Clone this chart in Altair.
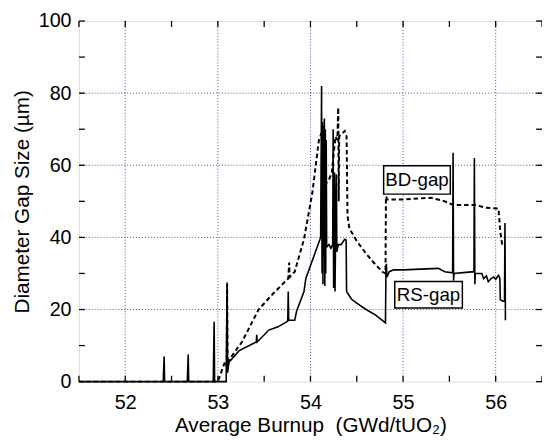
import altair as alt
import pandas as pd

# RS-gap (solid line)
rs_x = [51.5, 52.41, 52.42, 52.425, 52.67, 52.68, 52.685, 52.95, 52.96, 52.965,
        53.09, 53.10, 53.105, 53.12, 53.23, 53.34, 53.415, 53.42, 53.425, 53.55,
        53.65, 53.755, 53.76, 53.765, 53.83, 53.85, 53.93, 53.95, 54.11, 54.12,
        54.125, 54.13, 54.135, 54.14, 54.145, 54.15, 54.155, 54.16, 54.165, 54.17,
        54.175, 54.18, 54.20, 54.22, 54.24, 54.245, 54.25, 54.26, 54.265, 54.27,
        54.28, 54.285, 54.30, 54.33, 54.37, 54.385, 54.39, 54.44, 54.46, 54.50,
        54.60, 54.70, 54.80, 54.81, 54.815, 54.82, 54.825, 54.85, 54.90, 55.00,
        55.38, 55.45, 55.535, 55.54, 55.545, 55.55, 55.765, 55.77, 55.775, 55.78,
        55.85, 55.87, 55.90, 55.92, 55.95, 55.98, 56.00, 56.03, 56.045, 56.05,
        56.08, 56.095, 56.10, 56.105]
rs_y = [0, 0, 7, 0, 0, 7.5, 0, 0, 16.6, 0,
        0, 27.5, 2.5, 5.4, 8.6, 10, 11, 13, 11, 14.3,
        15.2, 16.8, 25, 17, 17, 19.5, 25, 28.6, 40, 82,
        30, 72, 27, 71, 35, 73, 26.5, 70, 30, 67,
        38, 37.5, 38, 37, 38, 70, 26, 58, 25, 37,
        57.5, 36, 38, 38, 39.5, 39.3, 25, 23, 22.5, 21.8,
        20, 18.5, 16.5, 16.3, 31, 32.7, 29, 30.5, 31, 31,
        31.4, 30.5, 30.2, 63.5, 28, 30, 30.5, 62, 27, 30,
        30, 28.6, 29.3, 27.7, 28.6, 29, 28.4, 29.5, 28.6, 22.7,
        22.3, 22.3, 44, 17]

# BD-gap (dashed line)
bd_x = [51.5, 53.0, 53.07, 53.095, 53.10, 53.105, 53.12, 53.26, 53.44, 53.60,
        53.76, 53.77, 53.775, 53.83, 53.93, 54.02, 54.09, 54.12, 54.14, 54.17,
        54.20, 54.23, 54.27, 54.29, 54.30, 54.305, 54.31, 54.33, 54.37, 54.39,
        54.40, 54.42, 54.50, 54.60, 54.70, 54.78, 54.81, 54.815, 54.83, 55.00,
        55.30, 55.45, 55.54, 55.78, 55.90, 56.03, 56.05, 56.07]
bd_y = [0, 0, 5, 4, 27, 5, 6, 11, 20, 24.5,
        28.6, 33, 29, 30.5, 39.5, 52.3, 66.8, 69, 60, 55,
        56, 58, 68, 67, 76, 50, 68, 68.5, 69.5, 68,
        46, 42.5, 39, 35.5, 32.5, 30.4, 30, 51.4, 50.5, 50.5,
        51, 50, 49, 49, 48.2, 48, 41.5, 38]

# Tick / grid values
x_major = [52, 53, 54, 55, 56]
x_minor = [51.5, 52, 52.5, 53, 53.5, 54, 54.5, 55, 55.5, 56, 56.5]
y_major = [0, 20, 40, 60, 80, 100]
y_minor = [0, 10, 20, 30, 40, 50, 60, 70, 80, 90, 100]
grid_y = [20, 40, 60, 80]

# Annotation labels (data coordinates)
lab_text = ["BD-gap", "RS-gap"]
lab_x = [55.15, 55.275]
lab_y = [56.0, 24.1]
box_x1 = [54.79, 54.91]
box_x2 = [55.51, 55.64]
box_y1 = [52.0, 20.4]
box_y2 = [59.9, 27.8]

W, H = 470, 366
FONT = "Liberation Sans"

xs = alt.Scale(domain=[51.5, 56.5], nice=False, zero=False)
ys = alt.Scale(domain=[0, 100], nice=False)

rs_df = pd.DataFrame({"x": rs_x, "y": rs_y, "i": range(len(rs_x))})
bd_df = pd.DataFrame({"x": bd_x, "y": bd_y, "i": range(len(bd_x))})

xgrid = alt.Chart(pd.DataFrame({"v": x_major})).mark_rule(
    color="#4a4ac8", strokeDash=[1, 2], strokeWidth=1
).encode(x=alt.X("v:Q", scale=xs, axis=alt.Axis(
    values=x_major, format="d", ticks=False, domain=False, grid=False,
    labelFontSize=20, labelFont=FONT, labelColor="black", labelPadding=11,
    title="Average Burnup\u00a0\u00a0(GWd/tUO₂)", titleFontSize=21, titleFont=FONT,
    titleFontWeight="normal", titleColor="black",
    titleBaseline="alphabetic", titleY=51)))

ygrid = alt.Chart(pd.DataFrame({"v": grid_y})).mark_rule(
    color="#4a4ac8", strokeDash=[1, 2], strokeWidth=1
).encode(y=alt.Y("v:Q", scale=ys, axis=alt.Axis(
    values=y_major, format="d", ticks=False, domain=False, grid=False,
    labelFontSize=20, labelFont=FONT, labelColor="black", labelPadding=8,
    title="Diameter Gap Size (µm)", titleFontSize=21, titleFont=FONT,
    titleFontWeight="normal", titleColor="black", titlePadding=6)))

rs_line = alt.Chart(rs_df).mark_line(color="black", strokeWidth=1.6).encode(
    x=alt.X("x:Q", scale=xs), y=alt.Y("y:Q", scale=ys), order="i:Q")

bd_line = alt.Chart(bd_df).mark_line(color="black", strokeWidth=2, strokeDash=[4.5, 3]).encode(
    x=alt.X("x:Q", scale=xs), y=alt.Y("y:Q", scale=ys), order="i:Q")

ytick_df = pd.DataFrame({"v": y_minor})
xtick_df = pd.DataFrame({"v": x_minor})
tick_l = alt.Chart(ytick_df).mark_rule(color="black", strokeWidth=1.3).encode(
    y=alt.Y("v:Q", scale=ys), x=alt.value(0), x2=alt.value(6))
tick_r = alt.Chart(ytick_df).mark_rule(color="black", strokeWidth=1.3).encode(
    y=alt.Y("v:Q", scale=ys), x=alt.value(W - 6), x2=alt.value(W))
tick_b = alt.Chart(xtick_df).mark_rule(color="black", strokeWidth=1.3).encode(
    x=alt.X("v:Q", scale=xs), y=alt.value(H - 6), y2=alt.value(H))
tick_t = alt.Chart(xtick_df).mark_rule(color="black", strokeWidth=1.3).encode(
    x=alt.X("v:Q", scale=xs), y=alt.value(0), y2=alt.value(6))

lab_df = pd.DataFrame({"t": lab_text, "x": lab_x, "y": lab_y,
                       "x1": box_x1, "x2": box_x2, "y1": box_y1, "y2": box_y2})
boxes = alt.Chart(lab_df).mark_rect(fill="white", stroke="black", strokeWidth=1.5).encode(
    x=alt.X("x1:Q", scale=xs), x2="x2:Q", y=alt.Y("y1:Q", scale=ys), y2="y2:Q")
texts = alt.Chart(lab_df).mark_text(font=FONT, fontSize=19, color="black",
                                    align="center", baseline="middle").encode(
    x=alt.X("x:Q", scale=xs), y=alt.Y("y:Q", scale=ys), text="t:N")

chart = alt.layer(xgrid, ygrid, bd_line, rs_line, tick_l, tick_r, tick_b, tick_t,
                  boxes, texts).properties(
    width=W, height=H,
    padding={"left": 72, "top": 10, "right": 0, "bottom": 56},
    autosize=alt.AutoSizeParams(type="none"),
).configure_view(stroke="black", strokeWidth=1.5).configure(background="white")

chart.save("out.html", embed_options={"renderer": "svg", "actions": False})
